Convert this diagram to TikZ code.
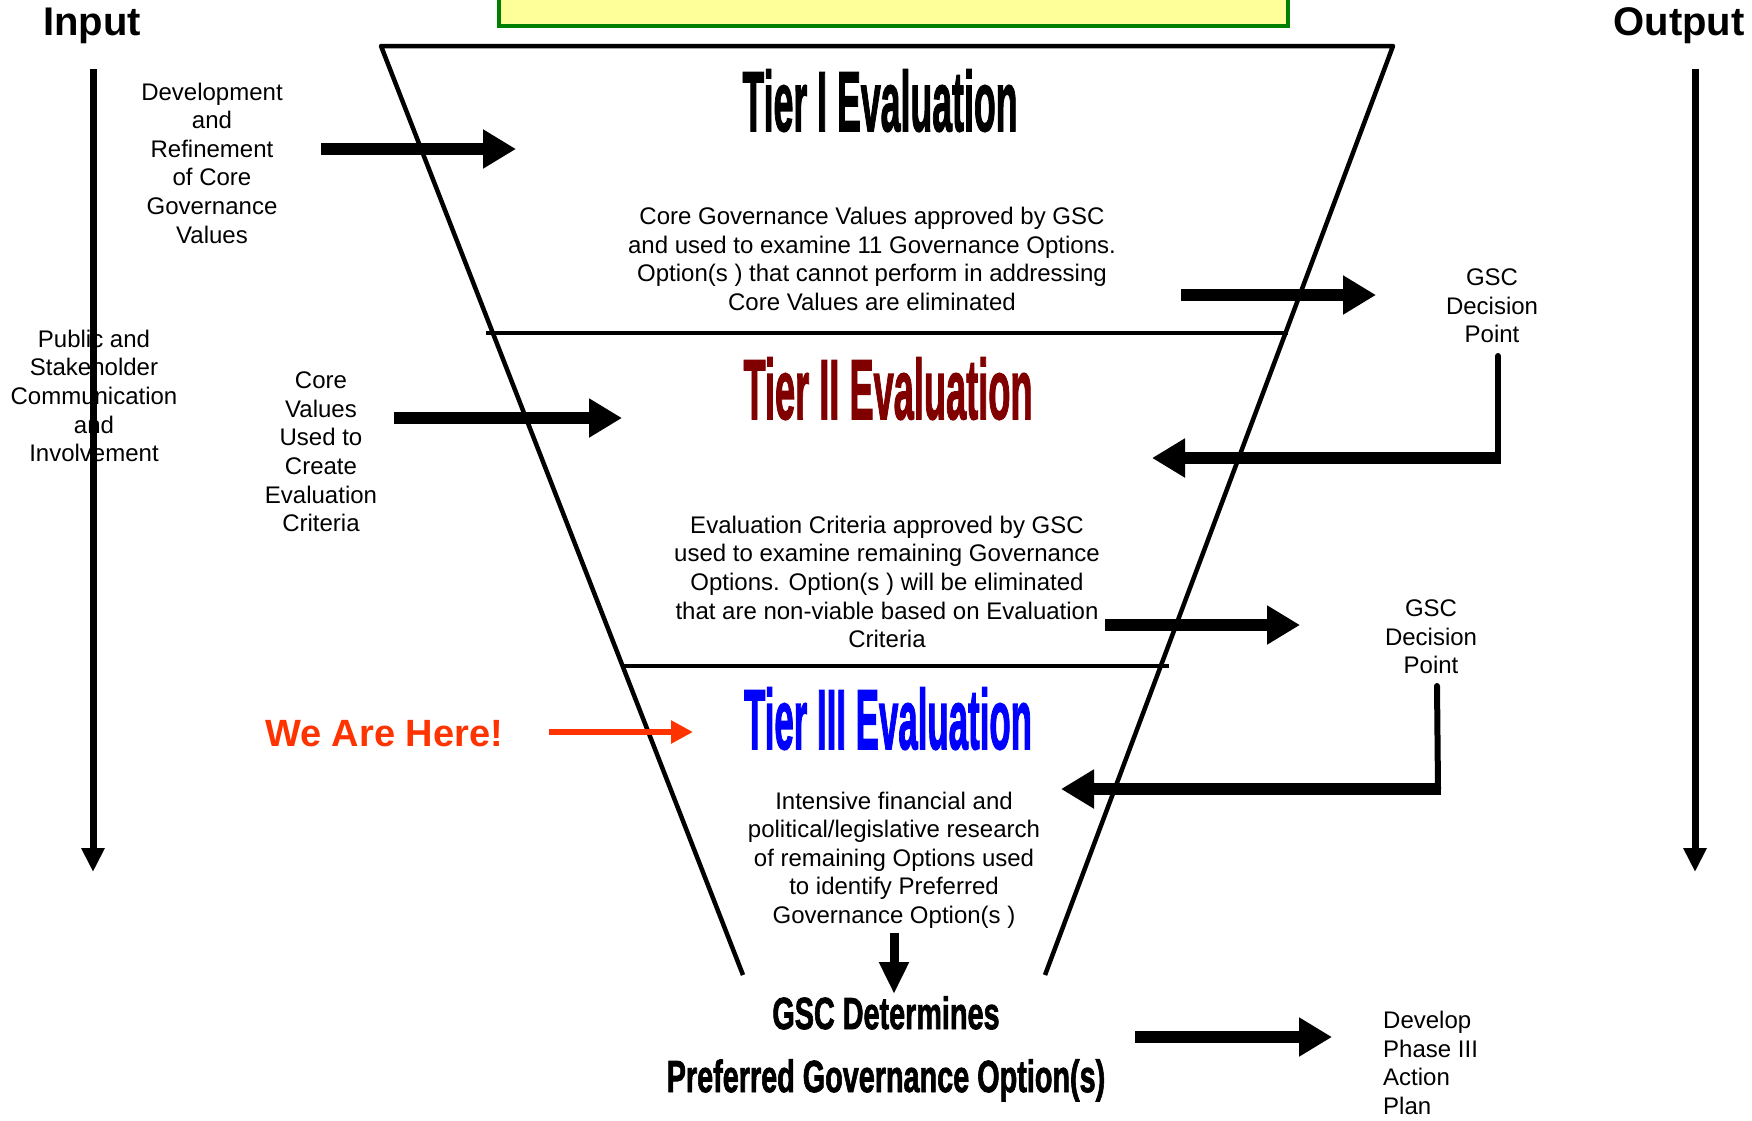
\documentclass[tikz,border=0pt]{standalone}
\usepackage{fontspec}
\usepackage{graphicx}
\setmainfont{Liberation Sans}
\newfontfamily\heavyfont{Liberation Sans}[FakeBold=2]
\usetikzlibrary{arrows.meta}
\definecolor{tiertwo}{RGB}{128,0,0}
\definecolor{tierthree}{RGB}{0,0,255}
\definecolor{herered}{RGB}{255,51,0}
\definecolor{boxyellow}{RGB}{255,255,153}
\definecolor{boxgreen}{RGB}{0,128,0}
\newcommand{\headtext}[2]{\scalebox{#1}[1]{\heavyfont\bfseries #2}}
\tikzset{
  body/.style={font=\fontsize{24}{28.6}\selectfont, align=center, inner sep=0pt},
  heading/.style={anchor=base, inner sep=0pt},
  funnelline/.style={line width=4.5pt, line join=round},
  fatarrow/.style={line width=12pt, -{Triangle[length=33pt,width=37pt]}},
  downarrow/.style={line width=9pt, -{Triangle[length=32pt,width=28pt]}},
  redarrow/.style={line width=6pt, herered, -{Triangle[length=22pt,width=22pt]}},
  timeline/.style={line width=7pt, -{Triangle[length=24pt,width=22pt]}},
  bentline/.style={line width=6pt, line cap=round}
}
\begin{document}
\begin{tikzpicture}[x=1pt,y=-1pt]
\clip (0,0) rectangle (1752,1120);
\fill[white] (0,0) rectangle (1752,1120);

% title box (cut off at top)
\draw[line width=4.5pt, draw=boxgreen, fill=boxyellow] (499,-20) rectangle (1288,26);

% Input / Output headings
\node[heading, font=\fontsize{40}{48}\selectfont\bfseries] (input) at (92,35) {Input};
\node[heading, font=\fontsize{40}{48}\selectfont\bfseries] (output) at (1679,35) {Output};

% funnel
\coordinate (fbl) at (743,975);
\coordinate (ftl) at (381,46);
\coordinate (ftr) at (1393,46);
\coordinate (fbr) at (1045,975);
\draw[funnelline] (fbl) -- (ftl) -- (ftr) -- (fbr);
\coordinate (d1a) at (486,333);
\coordinate (d1b) at (1288,333);
\coordinate (d2a) at (622,666);
\coordinate (d2b) at (1169,666);
\draw[funnelline] (d1a) -- (d1b);
\draw[funnelline] (d2a) -- (d2b);

% headings
\node[heading, font=\fontsize{85}{90}\selectfont] (tier1) at (880,131) {\headtext{0.42}{Tier I Evaluation}};
\node[heading, font=\fontsize{85}{90}\selectfont, text=tiertwo] (tier2) at (888,419) {\headtext{0.426}{Tier II Evaluation}};
\node[heading, font=\fontsize{85}{90}\selectfont, text=tierthree] (tier3) at (888,749) {\headtext{0.41}{Tier III Evaluation}};
\node[heading, font=\fontsize{45}{50}\selectfont] (gscdet) at (886,1029) {\headtext{0.64}{GSC Determines}};
\node[heading, font=\fontsize{45}{50}\selectfont] (pref) at (886,1092) {\headtext{0.64}{Preferred Governance Option(s)}};
\node[heading, font=\fontsize{38}{44}\selectfont\bfseries, text=herered] (here) at (384,746) {We Are Here!};

% body texts
\node[body] (dev) at (212,163) {Development\\and\\Refinement\\of Core\\Governance\\Values};
\node[body] (core1) at (872,259) {Core Governance Values approved by GSC\\and used to examine 11 Governance Options.\\Option(s ) that cannot perform in addressing\\Core Values are eliminated};
\node[body] (gsc1) at (1492,306) {GSC\\Decision\\Point};
\node[body] (corevals) at (321,452) {Core\\Values\\Used to\\Create\\Evaluation\\Criteria};
\node[body] (public) at (94,396) {Public and\\Stakeholder\\Communication\\and\\Involvement};
\node[body] (evalcrit) at (887,582) {Evaluation Criteria approved by GSC\\used to examine remaining Governance\\Options. Option(s ) will be eliminated\\that are non-viable based on Evaluation\\Criteria};
\node[body] (gsc2) at (1431,637) {GSC\\Decision\\Point};
\node[body] (intensive) at (894,860) {Intensive financial and\\political/legislative research\\of remaining Options used\\to identify Preferred\\Governance Option(s )};
\node[body, anchor=west, align=left] (develop) at (1383,1063) {Develop\\Phase III\\Action\\Plan};

% timelines
\coordinate (ins) at (93,69);
\coordinate (ine) at (93,872);
\coordinate (outs) at (1695,69);
\coordinate (oute) at (1695,872);
\draw[timeline] (ins) -- (ine);
\draw[timeline] (outs) -- (oute);

% input arrows
\coordinate (a1s) at (321,149);
\coordinate (a1e) at (516,149);
\draw[fatarrow] (a1s) -- (a1e);
\coordinate (a2s) at (394,418);
\coordinate (a2e) at (622,418);
\draw[fatarrow] (a2s) -- (a2e);
\coordinate (a3s) at (549,732);
\coordinate (a3e) at (693,732);
\draw[redarrow] (a3s) -- (a3e);

% decision arrows
\coordinate (g1s) at (1181,295);
\coordinate (g1e) at (1376,295);
\draw[fatarrow] (g1s) -- (g1e);
\coordinate (r1s) at (1498,356);
\coordinate (r1c) at (1498,458);
\coordinate (r1e) at (1152,458);
\draw[bentline] (r1s) -- (r1c);
\draw[fatarrow] ([xshift=3pt]r1c) -- (r1e);

\coordinate (g2s) at (1105,625);
\coordinate (g2e) at (1300,625);
\draw[fatarrow] (g2s) -- (g2e);
\coordinate (r2s) at (1437,686);
\coordinate (r2c) at (1438,789);
\coordinate (r2e) at (1061,789);
\draw[bentline] (r2s) -- (r2c);
\draw[fatarrow] ([xshift=3pt]r2c) -- (r2e);

% final arrows
\coordinate (dns) at (894,933);
\coordinate (dne) at (894,994);
\draw[downarrow] (dns) -- (dne);
\coordinate (fs) at (1135,1037);
\coordinate (fe) at (1332,1037);
\draw[fatarrow] (fs) -- (fe);
\end{tikzpicture}
\end{document}
